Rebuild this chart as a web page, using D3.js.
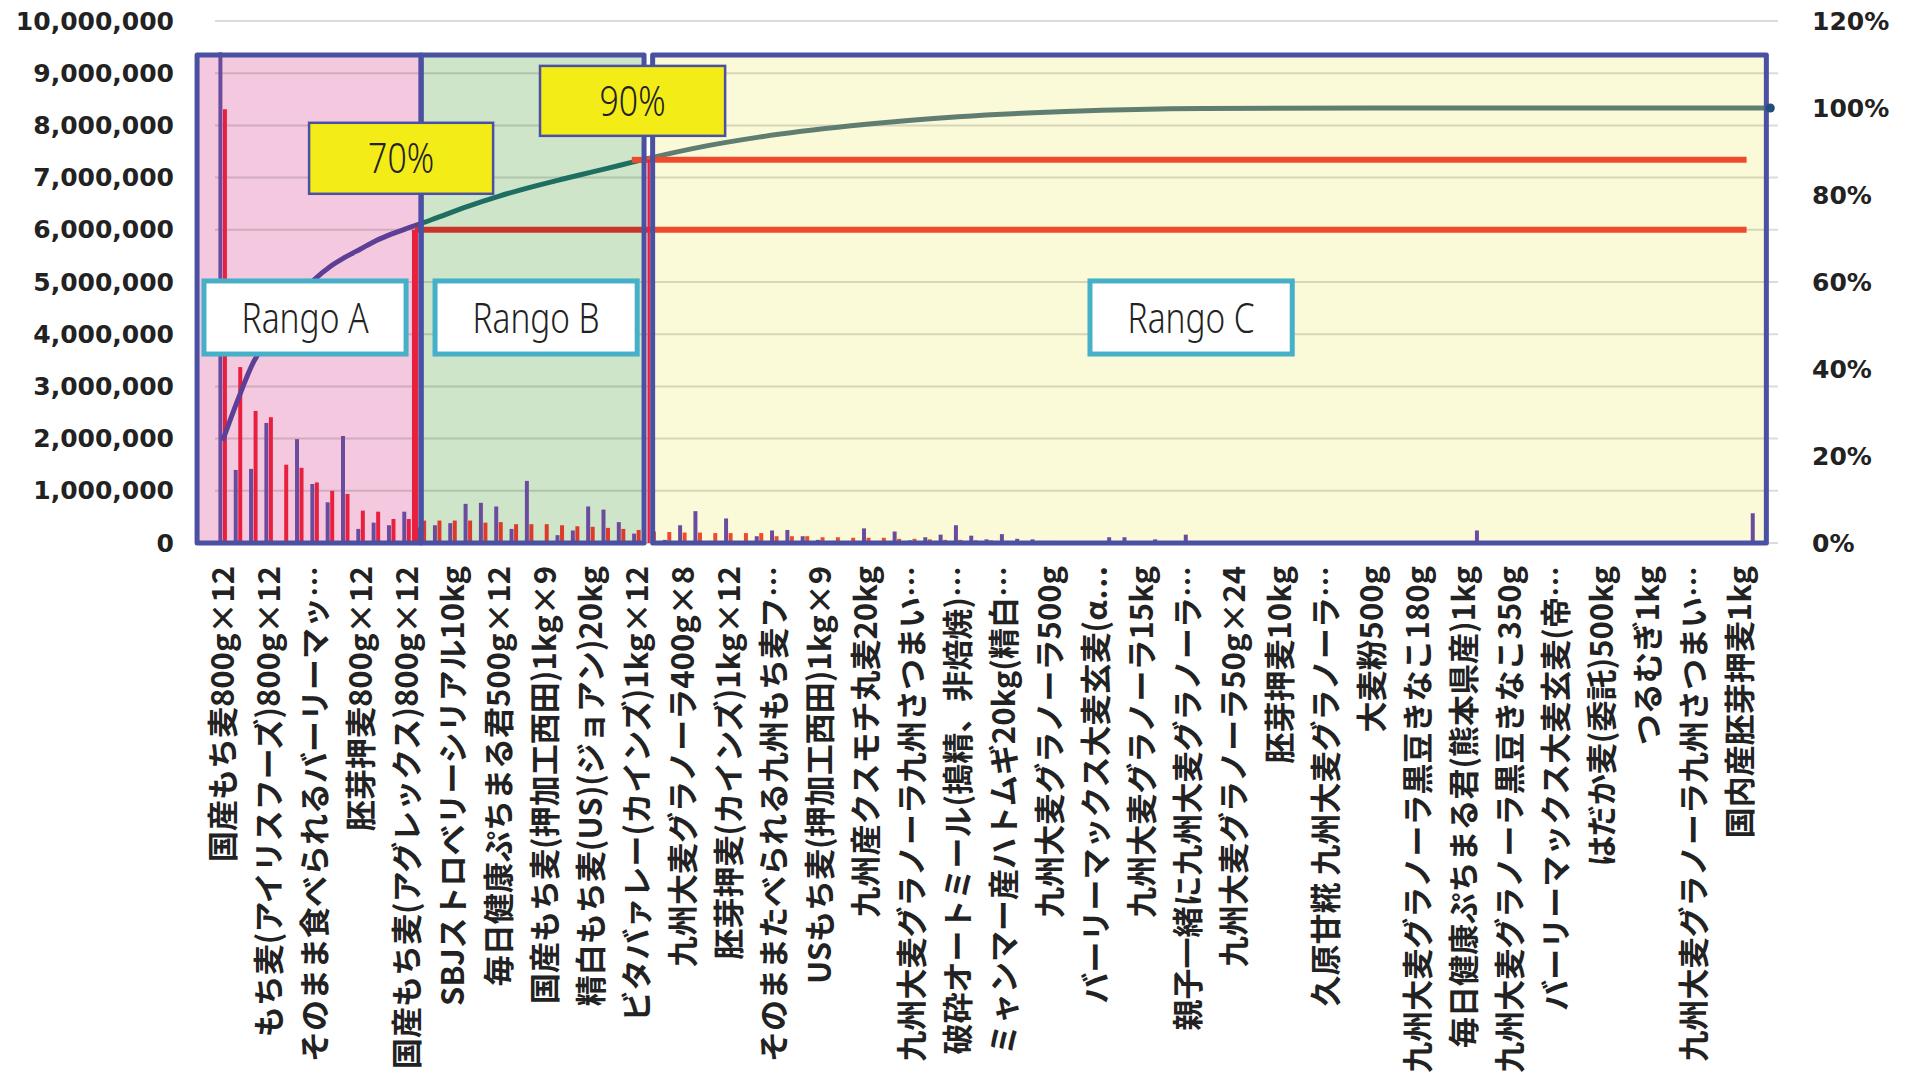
<!DOCTYPE html>
<html>
<head>
<meta charset="utf-8">
<script src="https://cdn.jsdelivr.net/npm/d3@7"></script>
<style>
  body { margin: 0; background: #fff; }
  svg { display: block; }
</style>
</head>
<body>
<div id="grafica"></div>
<script>
// ---------------- datos ----------------
// etiquetas visibles (una de cada 3 categorias)
const etiquetas = [
  "国産もち麦800g×12", "もち麦(アイリスフーズ)800g×12", "そのまま食べられるバーリーマッ…",
  "胚芽押麦800g×12", "国産もち麦(アグレックス)800g×12", "SBJストロベリーシリアル10kg",
  "毎日健康ぷちまる君500g×12", "国産もち麦(押加工西田)1kg×9", "精白もち麦(US)(ジョアン)20kg",
  "ビタバァレー(カインズ)1kg×12", "九州大麦グラノーラ400g×8", "胚芽押麦(カインズ)1kg×12",
  "そのままたべられる九州もち麦フ…", "USもち麦(押加工西田)1kg×9", "九州産クスモチ丸麦20kg",
  "九州大麦グラノーラ九州さつまい…", "破砕オートミール(搗精、非焙焼)…", "ミャンマー産ハトムギ20kg(精白…",
  "九州大麦グラノーラ500g", "バーリーマックス大麦玄麦(α…", "九州大麦グラノーラ15kg",
  "親子一緒に九州大麦グラノーラ…", "九州大麦グラノーラ50g×24", "胚芽押麦10kg",
  "久原甘糀 九州大麦グラノーラ…", "大麦粉500g", "九州大麦グラノーラ黒豆きなこ180g",
  "毎日健康ぷちまる君(熊本県産)1kg", "九州大麦グラノーラ黒豆きなこ350g", "バーリーマックス大麦玄麦(帝…",
  "はだか麦(委託)500kg", "つるむぎ1kg", "九州大麦グラノーラ九州さつまい…",
  "国内産胚芽押麦1kg"
];

// serie morada (millones)
const serieMorada = [
  9.4, 1.4, 1.42, 2.3, 0, 1.99, 1.13, 0.78, 2.05, 0.27,
  0.39, 0.34, 0.6, 0.3, 0.34, 0.38, 0.75, 0.77, 0.70, 0.27,
  1.19, 0, 0.15, 0.24, 0.70, 0.64, 0.40, 0.18, 0, 0.06,
  0.34, 0.61, 0.04, 0.47, 0, 0.13, 0.24, 0.25, 0.13, 0.06,
  0.04, 0, 0.28, 0.04, 0.22, 0.05, 0.11, 0.16, 0.34, 0.14,
  0.07, 0.17, 0.08, 0.07, 0.04, 0, 0, 0.03, 0.11, 0.11,
  0.01, 0.07, 0, 0.16, 0, 0.03, 0, 0, 0, 0,
  0, 0, 0, 0, 0, 0, 0, 0, 0, 0,
  0, 0, 0.24, 0, 0, 0, 0, 0, 0, 0,
  0, 0, 0, 0, 0, 0, 0, 0, 0, 0,
  0.57, 0
];

// serie roja (millones)
const serieRoja = [
  8.31, 3.37, 2.53, 2.41, 1.5, 1.44, 1.16, 1.0, 0.94, 0.62,
  0.6, 0.46, 0.46, 0.43, 0.43, 0.43, 0.43, 0.39, 0.40, 0.36,
  0.36, 0.36, 0.34, 0.32, 0.31, 0.29, 0.27, 0.25, 0.22, 0.21,
  0.20, 0.20, 0.19, 0.19, 0.19, 0.19, 0.13, 0.13, 0.13, 0.11,
  0.11, 0.10, 0.10, 0.10, 0.08, 0.08, 0.07, 0.06, 0.06, 0.05,
  0.05, 0.04, 0.03, 0.03, 0.02, 0.02, 0.01, 0.01, 0, 0,
  0, 0, 0, 0, 0, 0, 0, 0, 0, 0,
  0, 0, 0, 0, 0, 0, 0, 0, 0, 0,
  0, 0, 0, 0, 0, 0, 0, 0, 0, 0,
  0, 0, 0, 0, 0, 0, 0, 0, 0, 0,
  0, 0
];

const acumIdx = [0, 1, 2, 3, 4, 5, 6, 7, 8, 9, 10, 11, 12, 13, 14, 16, 18, 20, 22, 24, 26, 28, 31, 35, 41, 48, 55, 64, 75, 101];
const acumPct = [23.5, 33, 41.5, 47, 52.5, 57, 60.6, 63.5, 65.7, 67.6, 69.5, 71, 72.3, 73.5, 74.8, 77.4, 79.7, 81.7, 83.5, 85.2, 86.9, 88.6, 90.9, 93.3, 95.9, 98, 99.2, 99.9, 100, 100];

// rangos A/B/C (en unidades de categoria)
const rangoNombre = ["Rango A", "Rango B", "Rango C"];
const rangoIni = [-1.67, 12.95, 28.06];
const rangoFin = [12.95, 27.5, 100.74];
const rangoTope = 9.35e6;
const rangoColor = ["#f4c9df", "#cfe5c9", "#fafad9"];
const cajaIni = [-1.22, 13.86, 56.6];
const cajaFin = [11.97, 27.05, 69.8];

// umbrales 70% / 90%
const umbralTexto = ["70%", "90%"];
const umbralValor = [6.0e6, 7.34e6];
const umbralIni = [12.55, 26.7];
const umbralVert = [12.55, 27.8];
const umbralFin = 99.45;
const umbralCajaX0 = [5.64, 20.71];
const umbralCajaX1 = [17.65, 32.79];
const umbralCajaY0 = [6.69e6, 7.8e6];
const umbralCajaY1 = [8.05e6, 9.14e6];

const ticksIzq = d3.range(0, 10000001, 1000000);
const ticksDer = [0, 20, 40, 60, 80, 100, 120];

// ---------------- grafica ----------------
const N = serieMorada.length;
const categorias = d3.range(N);
const WidthCaja = 1907, HeightCaja = 1089;
const x0 = 215, x1 = 1778, yBase = 543, yTop = 21;

const svg = d3.select("#grafica").append("svg")
  .attr("width", WidthCaja).attr("height", HeightCaja);

const x = d3.scaleBand().domain(categorias).range([x0, x1])
  .paddingInner(0.445).paddingOuter(0.2225);
const xc = d3.scaleLinear().domain([-0.5, N - 0.5]).range([x0, x1]);
const xs = d3.scaleBand().domain(["m", "r"]).range([0, x.bandwidth()]).paddingInner(0.12);
const y = d3.scaleLinear().domain([0, 10e6]).range([yBase, yTop]);
const y2 = d3.scaleLinear().domain([0, 120]).range([yBase, yTop]);

const rangoDe = (i) => (i < rangoFin[0] ? 0 : i < umbralVert[1] ? 1 : 2);

// fondos de rangos
svg.append("g").selectAll("rect").data(rangoNombre).join("rect")
  .attr("x", (d, k) => xc(rangoIni[k]))
  .attr("width", (d, k) => xc(rangoFin[k]) - xc(rangoIni[k]))
  .attr("y", y(rangoTope))
  .attr("height", y(0) - y(rangoTope))
  .attr("fill", (d, k) => rangoColor[k]);

// lineas de cuadricula
svg.append("g").selectAll("line").data(ticksIzq).join("line")
  .attr("x1", x0).attr("x2", x1)
  .attr("y1", (d) => y(d)).attr("y2", (d) => y(d))
  .attr("stroke", "#000").attr("stroke-opacity", 0.14).attr("stroke-width", 2);

// barras
const colorRojo = ["#e9203d", "#dd3a2b", "#ef4a2c"];
const barras = svg.append("g");
barras.selectAll("rect.m").data(categorias).join("rect")
  .attr("class", "m")
  .attr("x", (i) => x(i) + xs("m"))
  .attr("width", xs.bandwidth())
  .attr("y", (i) => y(serieMorada[i] * 1e6))
  .attr("height", (i) => y(0) - y(serieMorada[i] * 1e6))
  .attr("fill", "#6a4b9d");
barras.selectAll("rect.r").data(categorias).join("rect")
  .attr("class", "r")
  .attr("x", (i) => x(i) + xs("r"))
  .attr("width", xs.bandwidth())
  .attr("y", (i) => y(serieRoja[i] * 1e6))
  .attr("height", (i) => y(0) - y(serieRoja[i] * 1e6))
  .attr("fill", (i) => colorRojo[rangoDe(i)]);

// linea acumulada (un color por rango)
const puntos = acumIdx.map((d, k) => [d, acumPct[k]]);
const linea = d3.line().x((d) => xc(d[0])).y((d) => y2(d[1])).curve(d3.curveMonotoneX);
const colorLinea = ["#5d3f95", "#1e6e62", "#5f7d70"];
const cortes = [-5, rangoFin[0], umbralVert[1], N + 5];
const defs = svg.append("defs");
[0, 1, 2].forEach((k) => {
  defs.append("clipPath").attr("id", "clip" + k).append("rect")
    .attr("x", xc(cortes[k])).attr("width", xc(cortes[k + 1]) - xc(cortes[k]))
    .attr("y", 0).attr("height", HeightCaja);
  svg.append("path").datum(puntos)
    .attr("d", linea)
    .attr("clip-path", "url(#clip" + k + ")")
    .attr("fill", "none")
    .attr("stroke", colorLinea[k])
    .attr("stroke-width", 5)
    .attr("stroke-linejoin", "round");
});

// lineas de umbral
const umbrales = svg.append("g");
umbralValor.forEach((v, k) => {
  umbrales.append("line")
    .attr("x1", xc(umbralIni[k])).attr("x2", xc(umbralVert[1]))
    .attr("y1", y(v)).attr("y2", y(v))
    .attr("stroke", k === 0 ? "#c9352b" : "#ef4a2c").attr("stroke-width", 6);
  umbrales.append("line")
    .attr("x1", xc(umbralVert[1])).attr("x2", xc(umbralFin))
    .attr("y1", y(v)).attr("y2", y(v))
    .attr("stroke", "#ef4a2c").attr("stroke-width", 6);
  umbrales.append("line")
    .attr("x1", xc(umbralVert[k])).attr("x2", xc(umbralVert[k]))
    .attr("y1", y(0)).attr("y2", y(v))
    .attr("stroke", "#e9203d").attr("stroke-width", k === 0 ? 6 : 2.5);
});

// bordes azules de rangos
svg.append("g").selectAll("rect").data(rangoNombre).join("rect")
  .attr("x", (d, k) => xc(rangoIni[k]))
  .attr("width", (d, k) => xc(rangoFin[k]) - xc(rangoIni[k]))
  .attr("y", y(rangoTope))
  .attr("height", y(0) - y(rangoTope))
  .attr("fill", "none").attr("stroke", "#4a50a2").attr("stroke-width", 5)
  .attr("stroke-linejoin", "round");

// cajas amarillas 70% / 90% (encima de los bordes)
umbralTexto.forEach((t, k) => {
  const g = svg.append("g");
  g.append("rect")
    .attr("x", xc(umbralCajaX0[k])).attr("width", xc(umbralCajaX1[k]) - xc(umbralCajaX0[k]))
    .attr("y", y(umbralCajaY1[k])).attr("height", y(umbralCajaY0[k]) - y(umbralCajaY1[k]))
    .attr("fill", "#f4ec17").attr("stroke", "#4a50a2").attr("stroke-width", 2.5);
  g.append("text")
    .attr("x", (xc(umbralCajaX0[k]) + xc(umbralCajaX1[k])) / 2)
    .attr("y", (y(umbralCajaY0[k]) + y(umbralCajaY1[k])) / 2)
    .attr("dy", "0.36em")
    .attr("text-anchor", "middle")
    .attr("textLength", 66).attr("lengthAdjust", "spacingAndGlyphs")
    .style("font-family", "'Noto Sans', sans-serif")
    .style("font-weight", 300)
    .style("font-size", "42px")
    .style("fill", "#222")
    .text(t);
});

// cajas blancas "Rango"
const cajas = svg.append("g").selectAll("g").data(rangoNombre).join("g");
cajas.append("rect")
  .attr("x", (d, k) => xc(cajaIni[k]))
  .attr("width", (d, k) => xc(cajaFin[k]) - xc(cajaIni[k]))
  .attr("y", y(5.02e6)).attr("height", y(3.62e6) - y(5.02e6))
  .attr("fill", "#fff").attr("stroke", "#45b0c8").attr("stroke-width", 5);
cajas.append("text")
  .attr("x", (d, k) => (xc(cajaIni[k]) + xc(cajaFin[k])) / 2)
  .attr("y", (y(5.02e6) + y(3.62e6)) / 2)
  .attr("dy", "0.36em")
  .attr("text-anchor", "middle")
  .attr("textLength", 127).attr("lengthAdjust", "spacingAndGlyphs")
  .style("font-family", "'Noto Sans', sans-serif")
  .style("font-weight", 300)
  .style("font-size", "42px")
  .style("fill", "#222")
  .text((d) => d);

// punto final de la linea
svg.append("circle")
  .attr("cx", xc(acumIdx[acumIdx.length - 1]))
  .attr("cy", y2(acumPct[acumPct.length - 1]))
  .attr("r", 4.5).attr("fill", "#1f4e79");

// ejes
const ejeIzq = svg.append("g").attr("transform", `translate(${x0},0)`)
  .call(d3.axisLeft(y).tickValues(ticksIzq).tickFormat(d3.format(",")).tickSize(0).tickPadding(41));
const ejeDer = svg.append("g").attr("transform", `translate(${x1},0)`)
  .call(d3.axisRight(y2).tickValues(ticksDer).tickFormat((d) => d + "%").tickSize(0).tickPadding(34));
[ejeIzq, ejeDer].forEach((e) => {
  e.select(".domain").remove();
  e.selectAll("text")
    .style("font-family", "'DejaVu Sans', sans-serif")
    .style("font-weight", "bold")
    .style("font-size", "25px")
    .style("fill", "#222");
});

const ejeX = svg.append("g").attr("transform", `translate(0,${yBase})`)
  .call(d3.axisBottom(x)
    .tickValues(categorias.filter((i) => i % 3 === 0))
    .tickFormat((i) => etiquetas[i / 3])
    .tickSize(0));
ejeX.select(".domain").remove();
ejeX.selectAll("text")
  .attr("transform", "rotate(-90)")
  .attr("text-anchor", "end")
  .attr("x", -23)
  .attr("y", 0)
  .attr("dy", "0.36em")
  .style("font-family", "'Noto Sans CJK JP', sans-serif")
  .style("font-weight", "bold")
  .style("font-size", "31px")
  .style("fill", "#222");
</script>
</body>
</html>
